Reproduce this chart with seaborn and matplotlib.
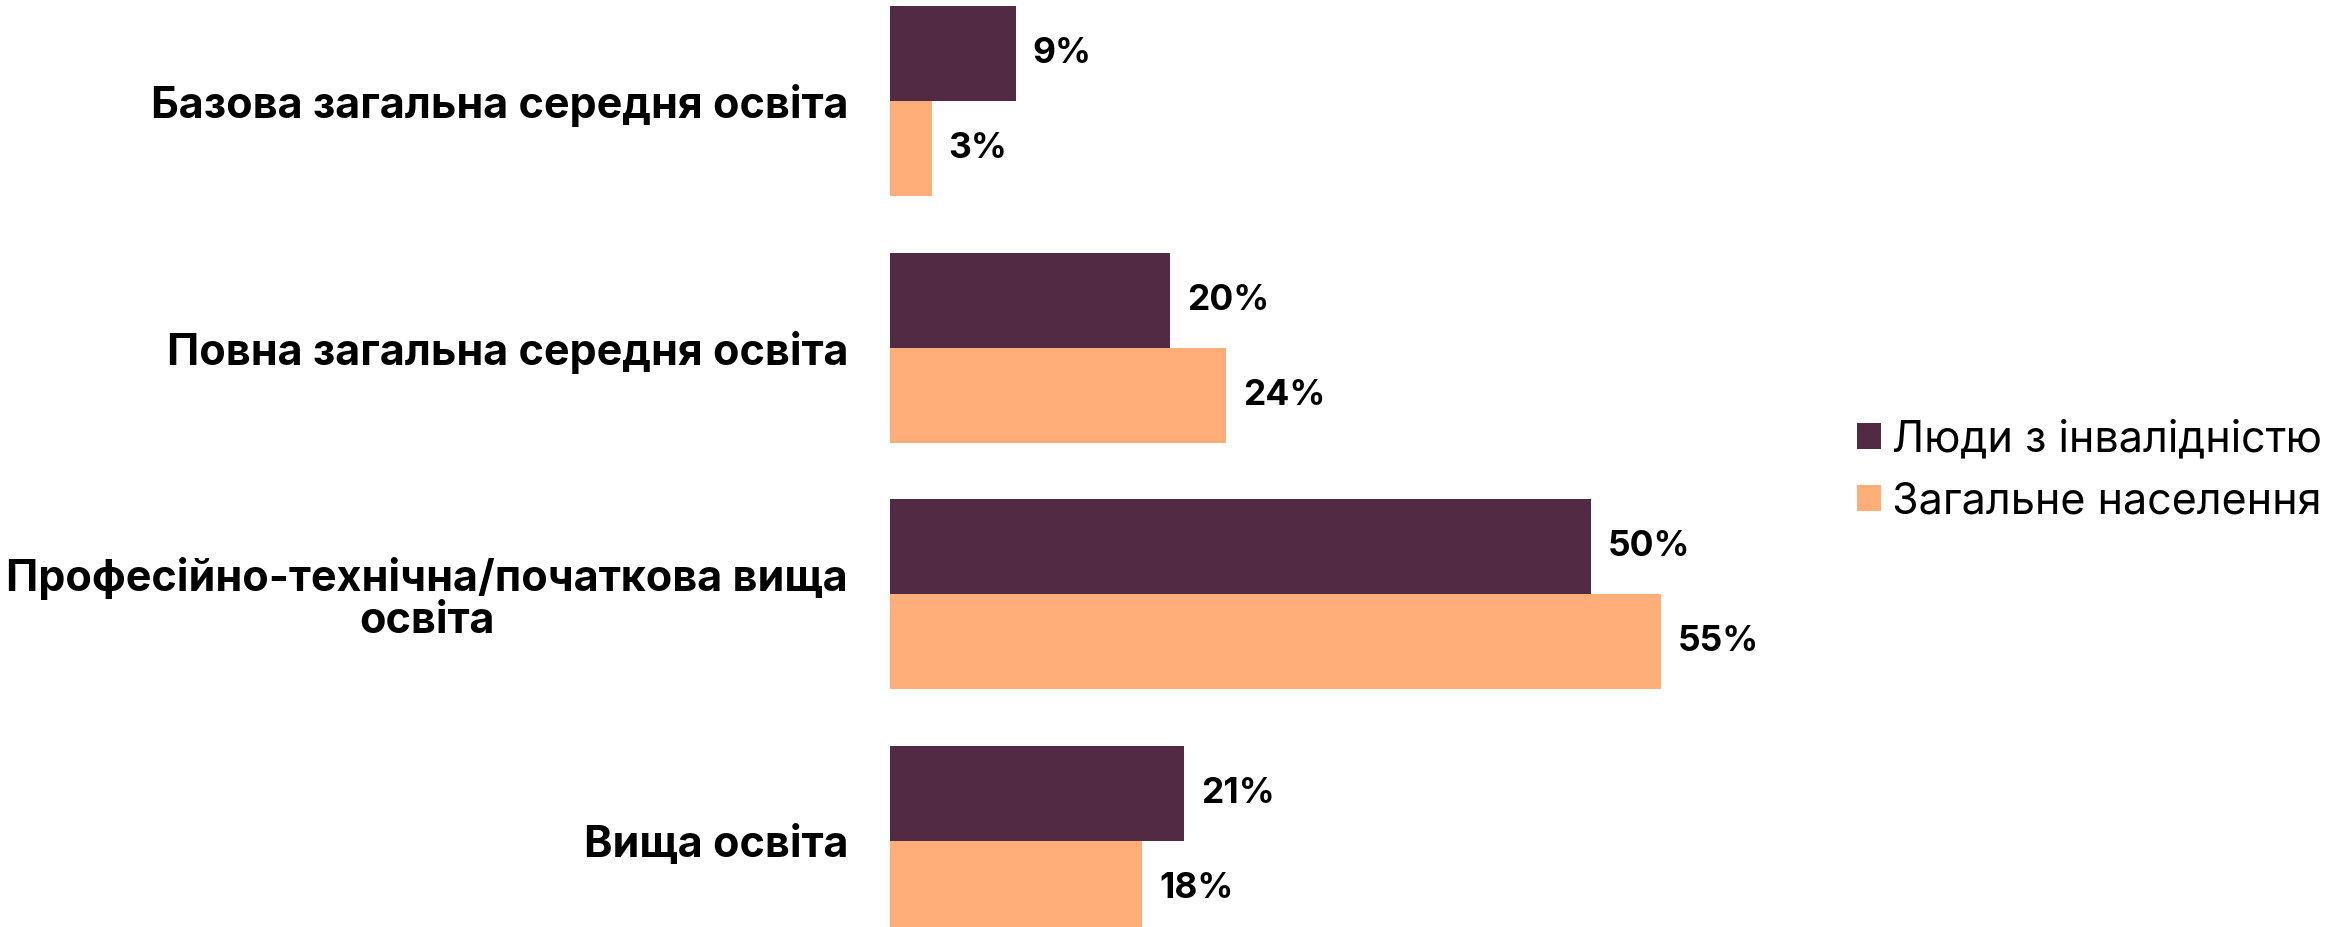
import pandas as pd
import matplotlib.pyplot as plt
import seaborn as sns

categories = [
    'Базова загальна середня освіта',
    'Повна загальна середня освіта',
    'Професійно-технічна/початкова вища\nосвіта',
    'Вища освіта',
]
series_names = ['Люди з інвалідністю', 'Загальне населення']
disabled = [9, 20, 50, 21]
general = [3, 24, 55, 18]
colors = ['#522a44', '#ffae79']

df = pd.DataFrame({
    'category': categories * 2,
    'group': [series_names[0]] * 4 + [series_names[1]] * 4,
    'value': disabled + general,
})

sns.set_style('white')
plt.rcParams['font.family'] = ['Inter', 'DejaVu Sans']
plt.rcParams['text.color'] = 'black'

fig = plt.figure(figsize=(23.51, 9.27), dpi=100)
# axes: left edge at bar start, about 14 px per percent
ax = fig.add_axes([0.3785, 0.0, 0.37, 1.0])

sns.barplot(data=df, y='category', x='value', hue='group', palette=colors,
            saturation=1, width=0.77, orient='h', linewidth=0, ax=ax)

ax.set_xlim(0, 0.37 * 2351 / 14.02)
ax.set_ylim(3.349, -0.4095)
ax.set_xlabel('')
ax.set_ylabel('')
ax.set_xticks([])
sns.despine(ax=ax, left=True, bottom=True)
ax.tick_params(axis='y', length=0, pad=30, labelsize=31, labelcolor='black')
for lbl in ax.get_yticklabels():
    lbl.set_fontweight('bold')
    lbl.set_multialignment('center')
    lbl.set_linespacing(1.05)

for cont in ax.containers:
    ax.bar_label(cont, fmt='%d%%', padding=12, fontsize=25.5, fontweight='bold',
                 color='black')

ax.legend_.remove()
handles, labels = ax.get_legend_handles_labels()
fig.legend(handles, labels, loc='center left', bbox_to_anchor=(0.7735, 0.492),
           frameon=False, fontsize=31, handlelength=0.55, handleheight=0.55,
           handletextpad=0.25, labelspacing=0.5, labelcolor='black')

fig.savefig('out.png', dpi=100)
